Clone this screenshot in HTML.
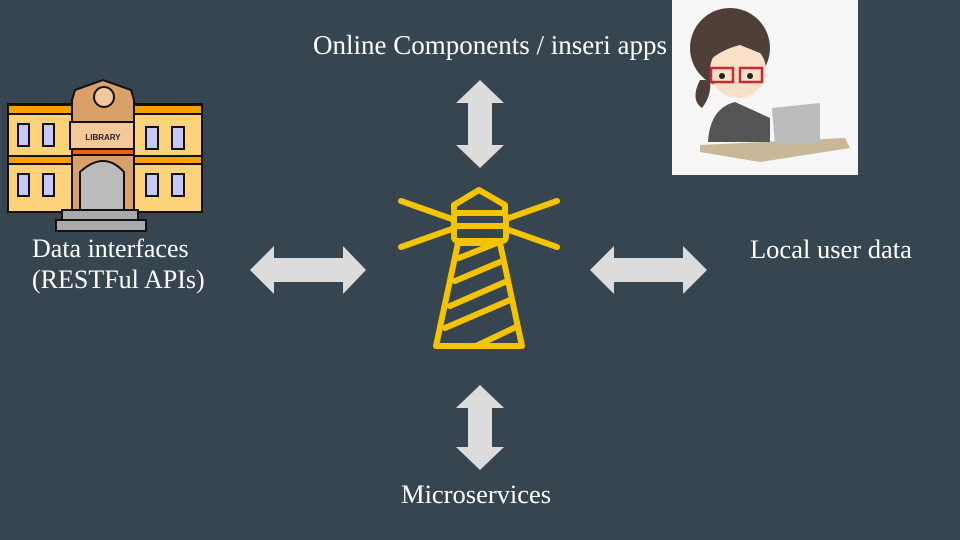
<!DOCTYPE html>
<html><head><meta charset="utf-8"><style>
body{margin:0;width:960px;height:540px;background:#36454f;overflow:hidden;position:relative;font-family:"Liberation Serif",serif;color:#fff}
.t{position:absolute;font-size:26px;line-height:30px;white-space:nowrap}
svg{position:absolute;left:0;top:0}
</style></head><body>
<svg width="960" height="540">
<g fill="#dcdcdc">
<polygon points="250,270 274,246 274,258 343,258 343,246 366,270 343,294 343,282 274,282 274,294"/>
<polygon points="590,270 614,246 614,258 683,258 683,246 707,270 683,294 683,282 614,282 614,294"/>
<polygon points="480,80 504,103 492,103 492,145 504,145 480,168 456,145 468,145 468,103 456,103"/>
<polygon points="480,385 504,408 492,408 492,447 504,447 480,470 456,447 468,447 468,408 456,408"/>
</g>
<g fill="none" stroke="#f5c400" stroke-width="6" stroke-linecap="round" stroke-linejoin="round">
<line x1="401" y1="201" x2="452" y2="219"/><line x1="401" y1="247" x2="452" y2="229"/>
<line x1="557" y1="201" x2="506" y2="219"/><line x1="557" y1="247" x2="506" y2="229"/>
<rect x="454" y="213" width="52" height="28" rx="4"/>
<line x1="454" y1="226" x2="506" y2="226"/>
<polyline points="454,213 454,205 479,190 505,205 505,213"/>
<polygon points="458,243 500,243 522,346 436,346"/>
<line x1="459" y1="258" x2="497" y2="243"/>
<line x1="455" y1="281" x2="500" y2="262"/>
<line x1="450" y1="306" x2="505" y2="282"/>
<line x1="445" y1="328" x2="510" y2="300"/>
<line x1="476" y1="346" x2="516" y2="327"/>
</g>
<g stroke="#111" stroke-width="2">
<rect x="8" y="104" width="64" height="108" fill="#fcd27a"/>
<rect x="134" y="104" width="68" height="108" fill="#fcd27a"/>
<rect x="8" y="105" width="64" height="9" fill="#f8a000"/>
<rect x="134" y="105" width="68" height="9" fill="#f8a000"/>
<rect x="8" y="156" width="64" height="8" fill="#f8a000"/>
<rect x="134" y="156" width="68" height="8" fill="#f8a000"/>
<polygon points="72,100 72,210 134,210 134,100 131,90 103,80 75,90" fill="#d9a06a"/>
<circle cx="104" cy="97" r="10" fill="#f2c89a"/>
<rect x="70" y="122" width="64" height="27" fill="#f5c89a"/>
<rect x="72" y="149" width="62" height="6" fill="#f06010"/>
<path d="M80,210 V172 Q104,150 124,172 V210Z" fill="#bbb"/>
<rect x="62" y="210" width="76" height="10" fill="#aaa"/>
<rect x="56" y="220" width="90" height="11" fill="#aaa"/>
<g fill="#c8c8f8"><rect x="18" y="124" width="11" height="22"/><rect x="43" y="124" width="11" height="22"/><rect x="146" y="127" width="12" height="22"/><rect x="172" y="127" width="12" height="22"/>
<rect x="18" y="174" width="11" height="22"/><rect x="43" y="174" width="11" height="22"/><rect x="146" y="174" width="12" height="22"/><rect x="172" y="174" width="12" height="22"/></g>
</g>
<text x="103" y="140" font-size="8" font-family="Liberation Sans" font-weight="bold" text-anchor="middle" fill="#222">LIBRARY</text>
<rect x="672" y="0" width="186" height="175" fill="#f6f6f6"/>
<polygon points="700,145 845,138 850,148 760,162 700,152" fill="#c8b898"/>
<path d="M708,142 Q710,108 735,102 L770,118 L770,142Z" fill="#555"/>
<polygon points="772,108 820,103 820,143 775,145" fill="#bbb"/>
<ellipse cx="730" cy="48" rx="40" ry="40" fill="#4e4038"/>
<ellipse cx="738" cy="70" rx="28" ry="28" fill="#fbe0c8"/>
<path d="M705,45 Q740,20 765,55 L740,45 Q720,50 708,62Z" fill="#4e4038"/>
<path d="M700,80 Q690,100 702,108 Q712,95 710,80Z" fill="#4e4038"/>
<g fill="none" stroke="#c8283a" stroke-width="2.5"><rect x="711" y="68" width="22" height="14"/><rect x="740" y="68" width="22" height="14"/></g>
<circle cx="722" cy="76" r="3" fill="#222"/><circle cx="750" cy="76" r="3" fill="#222"/>
</svg>
<div class="t" style="left:313px;top:30px;font-size:27px">Online Components / inseri apps</div>
<div class="t" style="left:32px;top:234px">Data interfaces</div>
<div class="t" style="left:32px;top:265px">(RESTFul APIs)</div>
<div class="t" style="left:750px;top:234px;font-size:26.5px">Local user data</div>
<div class="t" style="left:401px;top:479px;font-size:26.5px">Microservices</div>
</body></html>
